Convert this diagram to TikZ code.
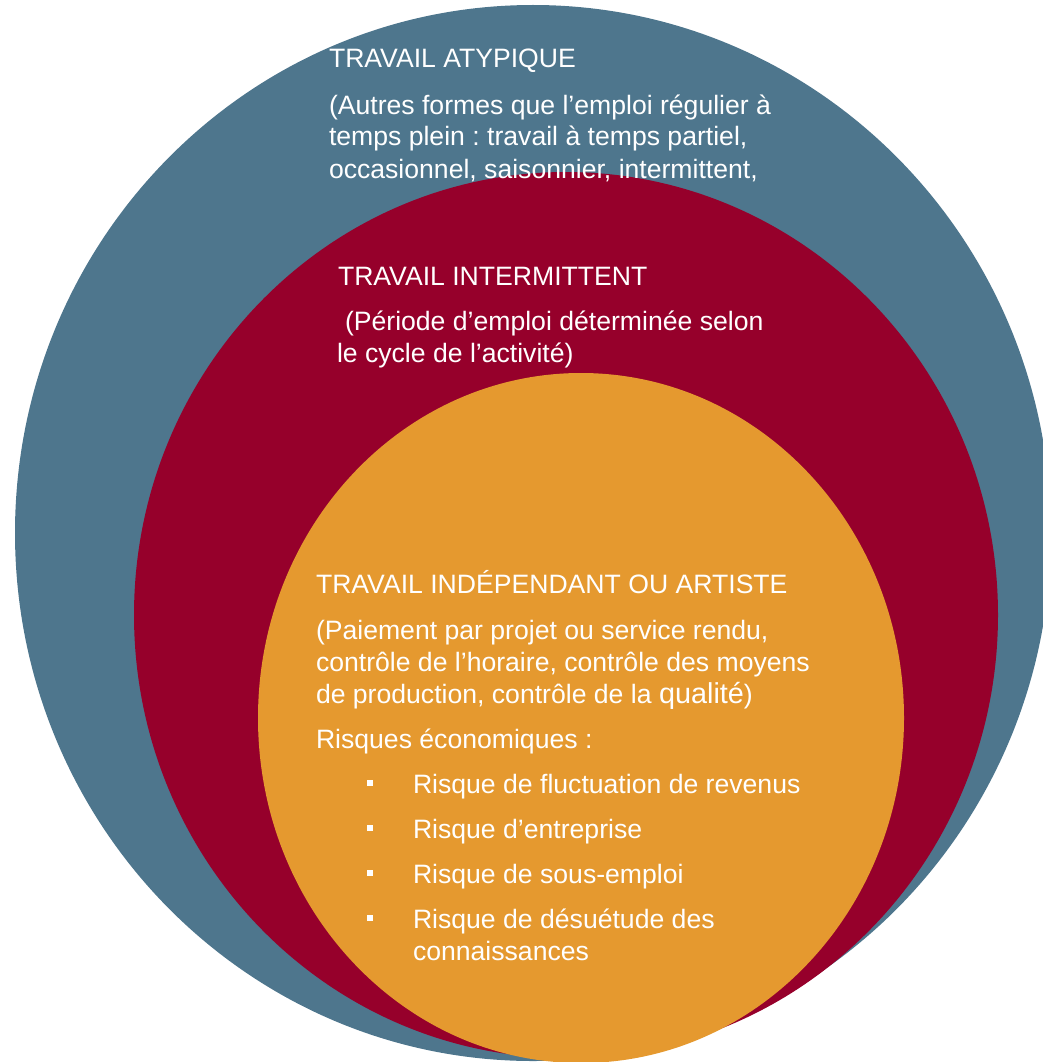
\documentclass[tikz,border=0pt]{standalone}
\usepackage{fontspec}
\setmainfont{Liberation Sans}
\definecolor{cblue}{HTML}{4E768D}
\definecolor{cred}{HTML}{96002B}
\definecolor{corange}{HTML}{E5992F}
\frenchspacing
\begin{document}
\begin{tikzpicture}[x=1pt,y=-1pt,
  txt/.style={anchor=base west, inner sep=0pt, outer sep=0pt, text=white, font=\fontsize{26.6}{32}\selectfont},
  bul/.style={fill=white, inner sep=0pt, minimum size=6.5pt, anchor=center}]
\useasboundingbox (0,0) rectangle (1043,1062);
\begin{scope}
\clip (0,0) rectangle (1043,1062);
\fill[cblue] (533,533) ellipse [x radius=518pt, y radius=528pt];
\fill[cred] (566,615) ellipse [x radius=432pt, y radius=443pt];
\fill[corange] (581,718) ellipse [x radius=323pt, y radius=345pt];
\end{scope}
% blue
\node[txt] (b0) at (329,68) {TRAVAIL ATYPIQUE};
\node[txt] (b1) at (329,114) {(Autres formes que l’emploi régulier à};
\node[txt] (b2) at (329,146) {temps plein : travail à temps partiel,};
\node[txt] (b3) at (329,178) {occasionnel, saisonnier, intermittent,};
% red
\node[txt] (r0) at (338,285) {TRAVAIL INTERMITTENT};
\node[txt] (r1) at (345,330) {(Période d’emploi déterminée selon};
\node[txt] (r2) at (337,362) {le cycle de l’activité)};
% orange
\node[txt] (o0) at (316,593) {TRAVAIL INDÉPENDANT OU ARTISTE};
\node[txt] (o1) at (316,639) {(Paiement par projet ou service rendu,};
\node[txt] (o2) at (316,671) {contrôle de l’horaire, contrôle des moyens};
\node[txt] (o3) at (316,703) {de production, contrôle de la {\fontsize{28.8}{32}\selectfont qualité})};
\node[txt] (o4) at (316,748) {Risques économiques :};
\node[bul] (p1) at (370,783) {};
\node[bul] (p2) at (370,828) {};
\node[bul] (p3) at (370,873) {};
\node[bul] (p4) at (370,918) {};
\node[txt] (i1) at (413,793) {Risque de fluctuation de revenus};
\node[txt] (i2) at (413,838) {Risque d’entreprise};
\node[txt] (i3) at (413,883) {Risque de sous-emploi};
\node[txt] (i4) at (413,928) {Risque de désuétude des};
\node[txt] (i5) at (413,960) {connaissances};
\end{tikzpicture}
\end{document}
